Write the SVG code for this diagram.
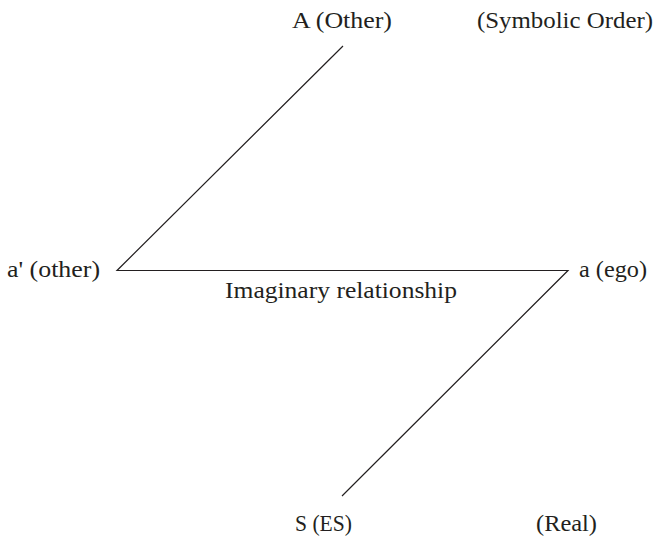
<svg xmlns="http://www.w3.org/2000/svg" width="658" height="537" viewBox="0 0 658 537">
<style>
text{font-family:"Liberation Serif","Times New Roman",serif;font-size:24px;fill:#231f20}
.c{fill:none;stroke:#231f20;stroke-width:1.2}
</style>
<rect width="658" height="537" fill="#fff"/>
<g id="connectors">
<polyline class="c" points="343,46 117,270.5 568,270.5 342,496"/>
</g>
<g id="A"><text x="292" y="28" textLength="100" lengthAdjust="spacingAndGlyphs">A (Other)</text></g>
<g id="symbolic"><text x="477" y="28" textLength="176" lengthAdjust="spacingAndGlyphs">(Symbolic Order)</text></g>
<g id="aprime"><text x="7" y="277" textLength="93" lengthAdjust="spacingAndGlyphs">a' (other)</text></g>
<g id="a"><text x="579" y="277" textLength="68" lengthAdjust="spacingAndGlyphs">a (ego)</text></g>
<g id="imaginary"><text x="225" y="298" textLength="232" lengthAdjust="spacingAndGlyphs">Imaginary relationship</text></g>
<g id="S"><text x="295" y="531" textLength="57" lengthAdjust="spacingAndGlyphs">S (ES)</text></g>
<g id="real"><text x="536" y="531" textLength="61" lengthAdjust="spacingAndGlyphs">(Real)</text></g>
</svg>
